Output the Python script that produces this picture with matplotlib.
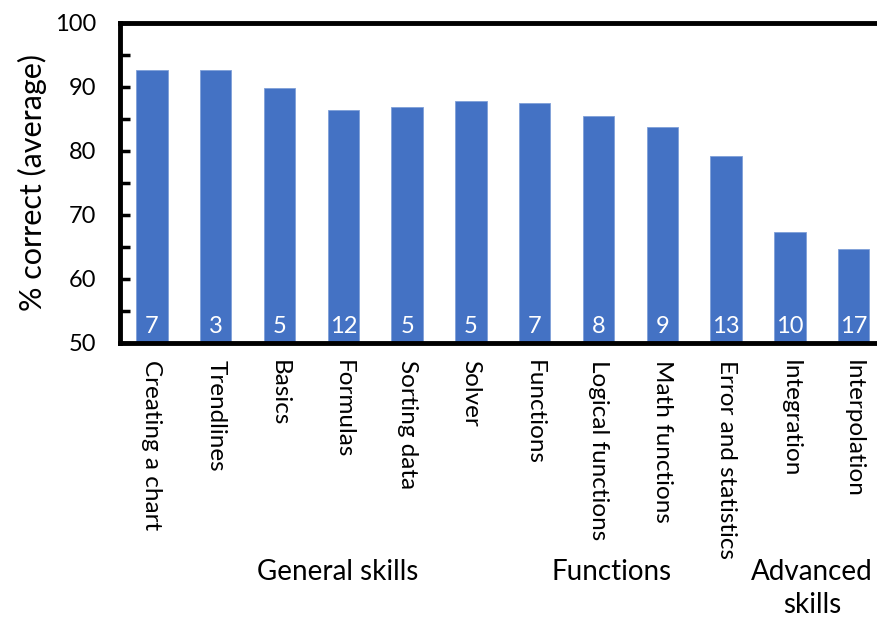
import numpy as np
import matplotlib
matplotlib.use("Agg")
import matplotlib.pyplot as plt
from matplotlib.ticker import MultipleLocator

plt.rcParams['font.family'] = ['Lato', 'DejaVu Sans']

skills = ["Creating a chart", "Trendlines", "Basics", "Formulas", "Sorting data",
          "Solver", "Functions", "Logical functions", "Math functions",
          "Error and statistics", "Integration", "Interpolation"]
pct_correct = [92.7, 92.7, 89.9, 86.4, 86.8, 87.8, 87.5, 85.4, 83.7, 79.2, 67.4, 64.7]
n_questions = [7, 3, 5, 12, 5, 5, 7, 8, 9, 13, 10, 17]

groups = ["General skills", "Functions", "Advanced\nskills"]
group_centres = [2.92, 7.21, 10.35]  # in category units

fig = plt.figure(figsize=(8.77, 6.2), dpi=100)
ax = fig.add_axes([0.1368, 0.447, 0.873, 0.516])

x = np.arange(len(skills))
ax.bar(x, pct_correct, width=0.49, bottom=0, color="#4472C4",
       edgecolor="#7f9fd8", linewidth=0.6)

for xi, n in zip(x, n_questions):
    ax.text(xi, 52.6, str(n), ha="center", va="center", color="white", fontsize=17)

ax.set_xlim(-0.5, len(skills) - 0.5)
ax.set_ylim(50, 100)
ax.yaxis.set_major_locator(MultipleLocator(10))
ax.yaxis.set_minor_locator(MultipleLocator(5))
ax.tick_params(axis="y", which="both", direction="in", length=7, width=2.5,
               labelsize=17, pad=17)
ax.tick_params(axis="x", length=0, pad=12)
ax.set_xticks(x)
ax.set_xticklabels(skills, rotation=-90, fontsize=17.5, va="top", ha="center")

for side in ["left", "bottom", "top", "right"]:
    ax.spines[side].set_linewidth(3.5)

ax.set_ylabel("% correct (average)", fontsize=22, labelpad=6)

for g, c in zip(groups, group_centres):
    ax.text(c, -0.675, g, transform=ax.get_xaxis_transform(), ha="center",
            va="top", fontsize=20, linespacing=1.35)

fig.savefig("out.png", dpi=100)
